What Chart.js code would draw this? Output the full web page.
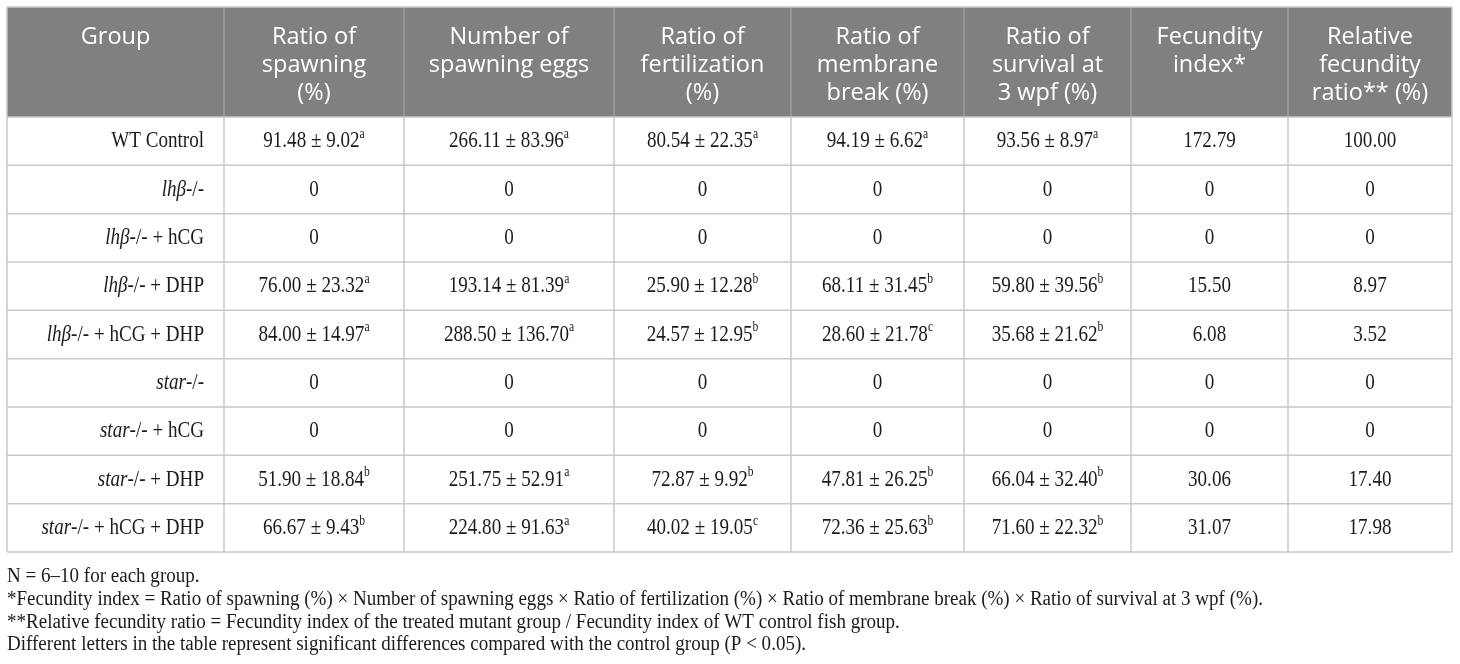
<!DOCTYPE html>
<html>
<head>
<meta charset="utf-8">
<script src="https://cdn.jsdelivr.net/npm/chart.js@4.4.1/dist/chart.umd.min.js"></script>
<style>
  html, body { margin: 0; padding: 0; background: #fff; }
  canvas { display: block; }
</style>
</head>
<body>
<canvas id="fecundityTable" width="1460" height="664"></canvas>
<script>
// table content
const headers = [
  ['Group'],
  ['Ratio of', 'spawning', '(%)'],
  ['Number of', 'spawning eggs'],
  ['Ratio of', 'fertilization', '(%)'],
  ['Ratio of', 'membrane', 'break (%)'],
  ['Ratio of', 'survival at', '3 wpf (%)'],
  ['Fecundity', 'index*'],
  ['Relative', 'fecundity', 'ratio** (%)']
];
const groupGene = ['', 'lhβ', 'lhβ', 'lhβ', 'lhβ', 'star', 'star', 'star', 'star'];
const groupRest = ['WT Control', '-/-', '-/- + hCG', '-/- + DHP', '-/- + hCG + DHP',
  '-/-', '-/- + hCG', '-/- + DHP', '-/- + hCG + DHP'];

const spawnMean = [91.48, 0, 0, 76.00, 84.00, 0, 0, 51.90, 66.67];
const spawnSd   = [9.02, null, null, 23.32, 14.97, null, null, 18.84, 9.43];
const spawnSig  = ['a', '', '', 'a', 'a', '', '', 'b', 'b'];

const eggsMean = [266.11, 0, 0, 193.14, 288.50, 0, 0, 251.75, 224.80];
const eggsSd   = [83.96, null, null, 81.39, 136.70, null, null, 52.91, 91.63];
const eggsSig  = ['a', '', '', 'a', 'a', '', '', 'a', 'a'];

const fertMean = [80.54, 0, 0, 25.90, 24.57, 0, 0, 72.87, 40.02];
const fertSd   = [22.35, null, null, 12.28, 12.95, null, null, 9.92, 19.05];
const fertSig  = ['a', '', '', 'b', 'b', '', '', 'b', 'c'];

const membMean = [94.19, 0, 0, 68.11, 28.60, 0, 0, 47.81, 72.36];
const membSd   = [6.62, null, null, 31.45, 21.78, null, null, 26.25, 25.63];
const membSig  = ['a', '', '', 'b', 'c', '', '', 'b', 'b'];

const survMean = [93.56, 0, 0, 59.80, 35.68, 0, 0, 66.04, 71.60];
const survSd   = [8.97, null, null, 39.56, 21.62, null, null, 32.40, 22.32];
const survSig  = ['a', '', '', 'b', 'b', '', '', 'b', 'b'];

const fecundityIndex = [172.79, 0, 0, 15.50, 6.08, 0, 0, 30.06, 31.07];
const relativeRatio  = [100.00, 0, 0, 8.97, 3.52, 0, 0, 17.40, 17.98];

const footnotes = [
  'N = 6\u201310 for each group.',
  '*Fecundity index = Ratio of spawning (%) \u00d7 Number of spawning eggs \u00d7 Ratio of fertilization (%) \u00d7 Ratio of membrane break (%) \u00d7 Ratio of survival at 3 wpf (%).',
  '**Relative fecundity ratio = Fecundity index of the treated mutant group / Fecundity index of WT control fish group.',
  'Different letters in the table represent significant differences compared with the control group (P < 0.05).'
];

// layout
const colWidths = [217, 180, 210, 177, 173, 167, 157, 164];
const headerTop = 7;
const SERIF = '"Liberation Serif", "Times New Roman", serif';
const SANS = '"Open Sans", "Noto Sans", sans-serif';
const BODY_SX = 0.83;

const statCols = [
  [spawnMean, spawnSd, spawnSig],
  [eggsMean, eggsSd, eggsSig],
  [fertMean, fertSd, fertSig],
  [membMean, membSd, membSig],
  [survMean, survSd, survSig]
];

function fmt(v) {
  return v === 0 ? '0' : v.toFixed(2);
}

function cellSegs(mean, sd, sig) {
  const segs = [{ t: fmt(mean), font: '23px ' + SERIF }];
  if (sd !== null) {
    segs[0].t += ' \u00b1 ' + sd.toFixed(2);
    segs.push({ t: sig, font: '14px ' + SERIF, dy: -7 });
  }
  return segs;
}

function drawRich(ctx, segs, x, y, align, sx) {
  const widths = segs.map(s => { ctx.font = s.font; return ctx.measureText(s.t).width; });
  const total = widths.reduce((a, b) => a + b, 0) * sx;
  let start = x;
  if (align === 'center') start = x - total / 2;
  if (align === 'right') start = x - total;
  ctx.save();
  ctx.translate(start, y);
  ctx.scale(sx, 1);
  let cx = 0;
  segs.forEach((s, i) => {
    ctx.font = s.font;
    ctx.fillText(s.t, cx, s.dy || 0);
    cx += widths[i];
  });
  ctx.restore();
}

const tablePlugin = {
  id: 'tableCells',
  afterDraw(chart) {
    const ctx = chart.ctx;
    const xs = chart.scales.x;
    const ys = chart.scales.y;
    const area = chart.chartArea;

    const edges = [0];
    colWidths.forEach(w => edges.push(edges[edges.length - 1] + w));
    const px = edges.map(e => xs.getPixelForValue(e));
    const band = ys.getPixelForValue(1) - ys.getPixelForValue(0);

    ctx.save();
    // header band
    ctx.fillStyle = '#808080';
    ctx.fillRect(px[0], headerTop, px[px.length - 1] - px[0], area.top - headerTop);
    ctx.strokeStyle = '#9c9c9c';
    ctx.lineWidth = 1.5;
    for (let i = 1; i < px.length - 1; i++) {
      ctx.beginPath();
      ctx.moveTo(px[i], headerTop);
      ctx.lineTo(px[i], area.top);
      ctx.stroke();
    }
    ctx.fillStyle = '#ffffff';
    ctx.font = '23.5px ' + SANS;
    ctx.textAlign = 'center';
    ctx.textBaseline = 'middle';
    headers.forEach((lines, c) => {
      const cx = (px[c] + px[c + 1]) / 2;
      lines.forEach((ln, k) => ctx.fillText(ln, cx, 37 + k * 28));
    });

    // grid
    ctx.strokeStyle = '#c9c9c9';
    ctx.lineWidth = 1.5;
    for (let r = 0; r <= groupRest.length; r++) {
      const y = ys.getPixelForValue(r) - band / 2;
      ctx.beginPath();
      ctx.moveTo(px[0], y);
      ctx.lineTo(px[px.length - 1], y);
      ctx.stroke();
    }
    px.forEach((x, i) => {
      ctx.beginPath();
      ctx.moveTo(x, (i === 0 || i === px.length - 1) ? headerTop : area.top);
      ctx.lineTo(x, area.bottom);
      ctx.stroke();
    });
    ctx.beginPath();
    ctx.moveTo(px[0], headerTop);
    ctx.lineTo(px[px.length - 1], headerTop);
    ctx.stroke();

    // cells
    ctx.fillStyle = '#1e1a1b';
    ctx.textBaseline = 'middle';
    ctx.textAlign = 'left';
    groupRest.forEach((rest, r) => {
      const y = ys.getPixelForValue(r);
      const segs = [];
      if (groupGene[r]) segs.push({ t: groupGene[r], font: 'italic 23px ' + SERIF });
      segs.push({ t: rest, font: '23px ' + SERIF });
      drawRich(ctx, segs, px[1] - 20, y, 'right', BODY_SX);

      statCols.forEach((col, c) => {
        const cx = xs.getPixelForValue(edges[c + 1] + colWidths[c + 1] / 2);
        drawRich(ctx, cellSegs(col[0][r], col[1][r], col[2][r]), cx, y, 'center', BODY_SX);
      });
      [fecundityIndex, relativeRatio].forEach((arr, k) => {
        const c = 6 + k;
        const cx = xs.getPixelForValue(edges[c] + colWidths[c] / 2);
        drawRich(ctx, [{ t: fmt(arr[r]), font: '23px ' + SERIF }], cx, y, 'center', BODY_SX);
      });
    });

    // notes under the table
    ctx.font = '20px ' + SERIF;
    const sx = 1256 / ctx.measureText(footnotes[1]).width;
    footnotes.forEach((t, i) => {
      drawRich(ctx, [{ t: t, font: '20px ' + SERIF }], px[0], area.bottom + 25 + i * 22.7, 'left', sx);
    });
    ctx.restore();
  }
};

function initTable() {
  const ctx = document.getElementById('fecundityTable');
  new Chart(ctx, {
    type: 'scatter',
    data: {
      labels: groupRest.map((r, i) => groupGene[i] + r),
      datasets: []
    },
    options: {
      responsive: false,
      animation: false,
      layout: { padding: { left: 7, right: 8, top: 117, bottom: 112 } },
      plugins: { legend: { display: false }, tooltip: { enabled: false } },
      scales: {
        x: { type: 'linear', display: false, min: 0, max: colWidths.reduce((a, b) => a + b, 0) },
        y: { type: 'category', display: false, offset: true }
      }
    },
    plugins: [tablePlugin]
  });
}

document.addEventListener('DOMContentLoaded', initTable);
</script>
</body>
</html>
